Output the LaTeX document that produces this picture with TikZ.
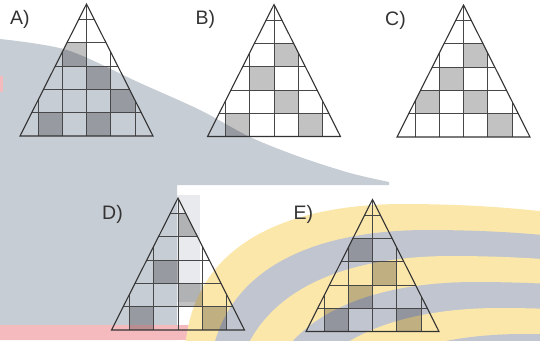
\documentclass[tikz,border=0pt]{standalone}
\usepackage{tikz}
\usepackage{fontspec}
\setsansfont{Liberation Sans}
\usetikzlibrary{positioning}
\usepackage{xcolor}

\definecolor{wmgrey}{RGB}{199,205,212}
\definecolor{ringgrey}{RGB}{193,197,207}
\definecolor{ringyellow}{RGB}{252,231,170}
\definecolor{wmpink}{RGB}{245,186,190}

\begin{document}
\begin{tikzpicture}[
    x=1pt, y=-1pt,
    triangle/.style={draw=black!80, line width=1.1pt, line join=miter},
    gridline/.style={draw=black!72, line width=0.8pt},
    shaded/.style={fill=black, fill opacity=0.24},
    letter/.style={font=\sffamily\fontsize{19.5}{20}\selectfont, text=black!80, inner sep=0pt, anchor=base west}
]
\useasboundingbox (0,0) rectangle (540,340);

% Background
\fill[wmgrey] plot[smooth] coordinates {(0,39) (67,50) (140,83) (200,110) (250,137) (300,157) (350,173) (389,182)}
    -- (389,185) -- (177,185) -- (177,340) -- (0,340) -- cycle;
\fill[wmpink] (0,325) rectangle (190,340);
\fill[wmpink] (0,76) rectangle (3,92);
\fill[wmgrey!42] (177,195) rectangle (200,302);
\begin{scope}
    \clip (177,185) rectangle (540,340);
    \foreach \k/\ringcol in {0/ringyellow,1/ringgrey,2/ringyellow,3/ringgrey,4/ringyellow,5/ringgrey}
        \fill[\ringcol, shift={(24*\k,26*\k)}] (185,350) .. controls (192,245) and (285,205) .. (400,204)
            .. controls (470,204) and (520,208) .. (580,216) -- (580,400) -- (185,400) -- cycle;
\end{scope}

% Triangles
\foreach \name/\cx/\ty/\cells in {A/86.5/4/{-1/3,0/2,1/1,-2/0,0/0},B/274/4.5/{0/3,-1/2,0/1,-2/0,1/0},C/463.5/5/{0/3,-1/2,-2/1,0/1,1/0},D/178/198/{0/4,-1/2,0/1,-2/0,1/0},E/372.5/199.5/{-1/3,0/2,-1/1,-2/0,1/0}}
{
    \coordinate (apex\name) at (\cx,\ty);
    \coordinate (left\name) at (\cx-66.5,\ty+132);
    \coordinate (right\name) at (\cx+66.5,\ty+132);
    \begin{scope}
        \clip (apex\name) -- (left\name) -- (right\name) -- cycle;
        \foreach \i/\r in \cells
            \fill[shaded] (\cx+\i*24.3,\ty+132-\r*23.3) rectangle (\cx+\i*24.3+24.3,\ty+132-\r*23.3-23.3);
        \foreach \k in {1,...,5}
            \draw[gridline] (\cx-70,\ty+132-\k*23.3) -- (\cx+70,\ty+132-\k*23.3);
        \foreach \j in {-2,...,2}
            \draw[gridline] (\cx+\j*24.3,\ty) -- (\cx+\j*24.3,\ty+132);
    \end{scope}
    \draw[triangle] (apex\name) -- (left\name) -- (right\name) -- cycle;
}

% Labels
\node[letter] (labelA) at (10,24.5) {A)};
\node[letter] (labelB) at (195.5,24.5) {B)};
\node[letter] (labelC) at (385,25) {C)};
\node[letter] (labelD) at (102,219.3) {D)};
\node[letter] (labelE) at (293.5,219.3) {E)};

\end{tikzpicture}
\end{document}
